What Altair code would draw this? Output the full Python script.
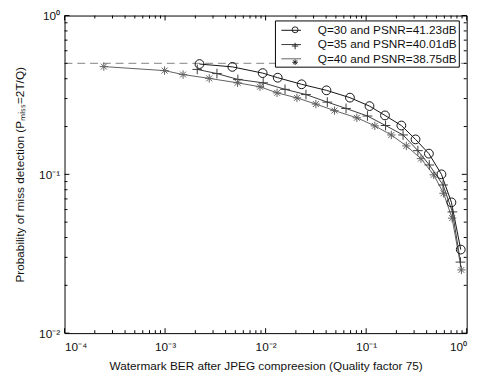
import altair as alt
import pandas as pd

series_names = ["Q=30 and PSNR=41.23dB", "Q=35 and PSNR=40.01dB", "Q=40 and PSNR=38.75dB"]
marker_keys = ["o", "+", "*"]

q30_x = [0.0022, 0.00467, 0.00935, 0.0132, 0.0228, 0.0403, 0.069, 0.108, 0.154, 0.224, 0.310, 0.421, 0.561, 0.705, 0.873]
q30_y = [0.495, 0.475, 0.434, 0.406, 0.369, 0.338, 0.304, 0.269, 0.235, 0.203, 0.166, 0.135, 0.100, 0.0666, 0.0336]

q35_x = [0.00209, 0.00328, 0.0053, 0.00946, 0.0156, 0.0252, 0.0411, 0.0631, 0.103, 0.156, 0.233, 0.327, 0.425, 0.582, 0.721, 0.867]
q35_y = [0.458, 0.431, 0.396, 0.377, 0.343, 0.318, 0.285, 0.260, 0.233, 0.203, 0.177, 0.141, 0.1145, 0.0857, 0.058, 0.028]

q40_x = [0.000246, 0.000989, 0.00151, 0.00275, 0.00526, 0.00879, 0.0130, 0.0205, 0.0316, 0.0484, 0.0808, 0.122, 0.178, 0.251, 0.351, 0.470, 0.589, 0.716, 0.887]
q40_y = [0.477, 0.450, 0.425, 0.402, 0.377, 0.356, 0.326, 0.303, 0.277, 0.252, 0.227, 0.202, 0.177, 0.151, 0.1256, 0.0993, 0.076, 0.053, 0.025]

ref_x = [1e-4, 1.0]
ref_y = [0.5, 0.5]

x_major = [1e-4, 1e-3, 1e-2, 1e-1, 1.0]
x_tick_labels = ["10\u207b\u2074", "10\u207b\u00b3", "10\u207b\u00b2", "10\u207b\u00b9", "10\u2070"]
y_major = [1e-2, 1e-1, 1.0]
y_tick_labels = ["10\u207b\u00b2", "10\u207b\u00b9", "10\u2070"]
x_minor = [k * 10.0 ** d for d in (-4, -3, -2, -1) for k in range(2, 10)]
y_minor = [k * 10.0 ** d for d in (-2, -1) for k in range(2, 10)]

x_title = "Watermark BER after JPEG compreesion (Quality factor 75)"
y_title = "Probability of miss detection (P\u2098\u1d62\u209b\u209b=2T/Q)"

colors = ["#111111", "#3a3a3a", "#606060"]
marker_shapes = ["circle", "M-1.1,0L1.1,0M0,-1.1L0,1.1",
                 "M-0.95,0L0.95,0M0,-0.95L0,0.95M-0.67,-0.67L0.67,0.67M-0.67,0.67L0.67,-0.67"]

rows = []
for name, key, xs, ys in zip(series_names, marker_keys, [q30_x, q35_x, q40_x], [q30_y, q35_y, q40_y]):
    for a, b in zip(xs, ys):
        rows.append({"x": a, "y": b, "series": name, "marker": key})
df = pd.DataFrame(rows)
df_ref = pd.DataFrame({"x": ref_x, "y": ref_y})

W, H = 409, 323
FONT = "Liberation Sans"
LX, LY, LPAD = 214, 5, 2
SYM = 15
MSIZE = 36

xscale = alt.Scale(type="log", domain=[1e-4, 1], nice=False)
yscale = alt.Scale(type="log", domain=[0.01, 1], nice=False)

x_label_expr = "[" + ",".join("'%s'" % s for s in x_tick_labels) + "][round(log(datum.value)/LN10)+4]"
y_label_expr = "[" + ",".join("'%s'" % s for s in y_tick_labels) + "][round(log(datum.value)/LN10)+2]"

x_axis = alt.Axis(values=x_major, labelExpr=x_label_expr, ticks=False, tickSize=0, domain=False, grid=False,
                  title=x_title, labelPadding=9, titlePadding=8, labelFontSize=12, titleFontSize=12,
                  labelFont=FONT, titleFont=FONT, labelColor="#111", titleColor="#111", titleFontWeight="normal")
y_axis = alt.Axis(values=y_major, labelExpr=y_label_expr, ticks=False, tickSize=0, domain=False, grid=False,
                  title=y_title, labelPadding=5, titlePadding=12, labelFontSize=12, titleFontSize=12,
                  labelFont=FONT, titleFont=FONT, labelColor="#111", titleColor="#111", titleFontWeight="normal")

legend_lines = alt.Legend(orient="none", legendX=LX, legendY=LY, title=None, strokeColor="black",
                          fillColor="white", padding=LPAD, symbolType="M-1.33,0L1.33,0", symbolSize=SYM * SYM,
                          symbolOffset=6.5, labelOffset=19, rowPadding=0.5, labelFont=FONT, labelFontSize=12,
                          labelColor="#111", labelExpr="datum.label + '   '",
                          symbolStrokeWidth=1, symbolFillColor="transparent", cornerRadius=0, zindex=1)
legend_markers = alt.Legend(orient="none", legendX=LX + SYM / 2 - MSIZE ** 0.5 / 2 + 6.5, legendY=LY,
                            title=None, padding=LPAD, symbolSize=MSIZE, labelExpr="''", labelFontSize=SYM,
                            labelOffset=0, rowPadding=0.5, symbolStrokeWidth=1, symbolStrokeColor="#222",
                            symbolFillColor="transparent", zindex=2)

color_scale = alt.Scale(domain=series_names, range=colors)
shape_scale = alt.Scale(domain=marker_keys, range=marker_shapes)

ref_line = alt.Chart(df_ref).mark_line(strokeDash=[8, 5], color="#9c9c9c", strokeWidth=1.3).encode(
    x=alt.X("x:Q", scale=xscale, axis=x_axis),
    y=alt.Y("y:Q", scale=yscale, axis=y_axis),
)

lines = alt.Chart(df).mark_line(strokeWidth=1).encode(
    x=alt.X("x:Q", scale=xscale),
    y=alt.Y("y:Q", scale=yscale),
    color=alt.Color("series:N", scale=color_scale, legend=legend_lines),
)

points = alt.Chart(df).mark_point(filled=False, size=80, strokeWidth=1, opacity=1).encode(
    x=alt.X("x:Q", scale=xscale),
    y=alt.Y("y:Q", scale=yscale),
    color=alt.Color("series:N", scale=color_scale, legend=legend_lines),
    shape=alt.Shape("marker:N", scale=shape_scale, legend=legend_markers),
)


def tick_layer(values, field, side, length):
    d = pd.DataFrame({field: values})
    base = alt.Chart(d).mark_rule(color="black", strokeWidth=1)
    if field == "x":
        enc = dict(x=alt.X("x:Q", scale=xscale))
        if side == "bottom":
            enc.update(y=alt.value(H), y2=alt.value(H - length))
        else:
            enc.update(y=alt.value(0), y2=alt.value(length))
    else:
        enc = dict(y=alt.Y("y:Q", scale=yscale))
        if side == "left":
            enc.update(x=alt.value(0), x2=alt.value(length))
        else:
            enc.update(x=alt.value(W), x2=alt.value(W - length))
    return base.encode(**enc)


ticks = [
    tick_layer(x_major, "x", "bottom", 5), tick_layer(x_major, "x", "top", 5),
    tick_layer(x_minor, "x", "bottom", 3), tick_layer(x_minor, "x", "top", 3),
    tick_layer(y_major, "y", "left", 5), tick_layer(y_major, "y", "right", 5),
    tick_layer(y_minor, "y", "left", 3), tick_layer(y_minor, "y", "right", 3),
]

chart = alt.layer(ref_line, *ticks, lines, points).properties(
    width=W, height=H,
    autosize=alt.AutoSizeParams(type="none"),
    padding={"left": 57.5, "top": 4.5, "right": 10.5, "bottom": 44.5},
).configure(background="white").configure_view(stroke="black", strokeWidth=1)

chart.save("out.html", embed_options={"renderer": "svg", "actions": False})
